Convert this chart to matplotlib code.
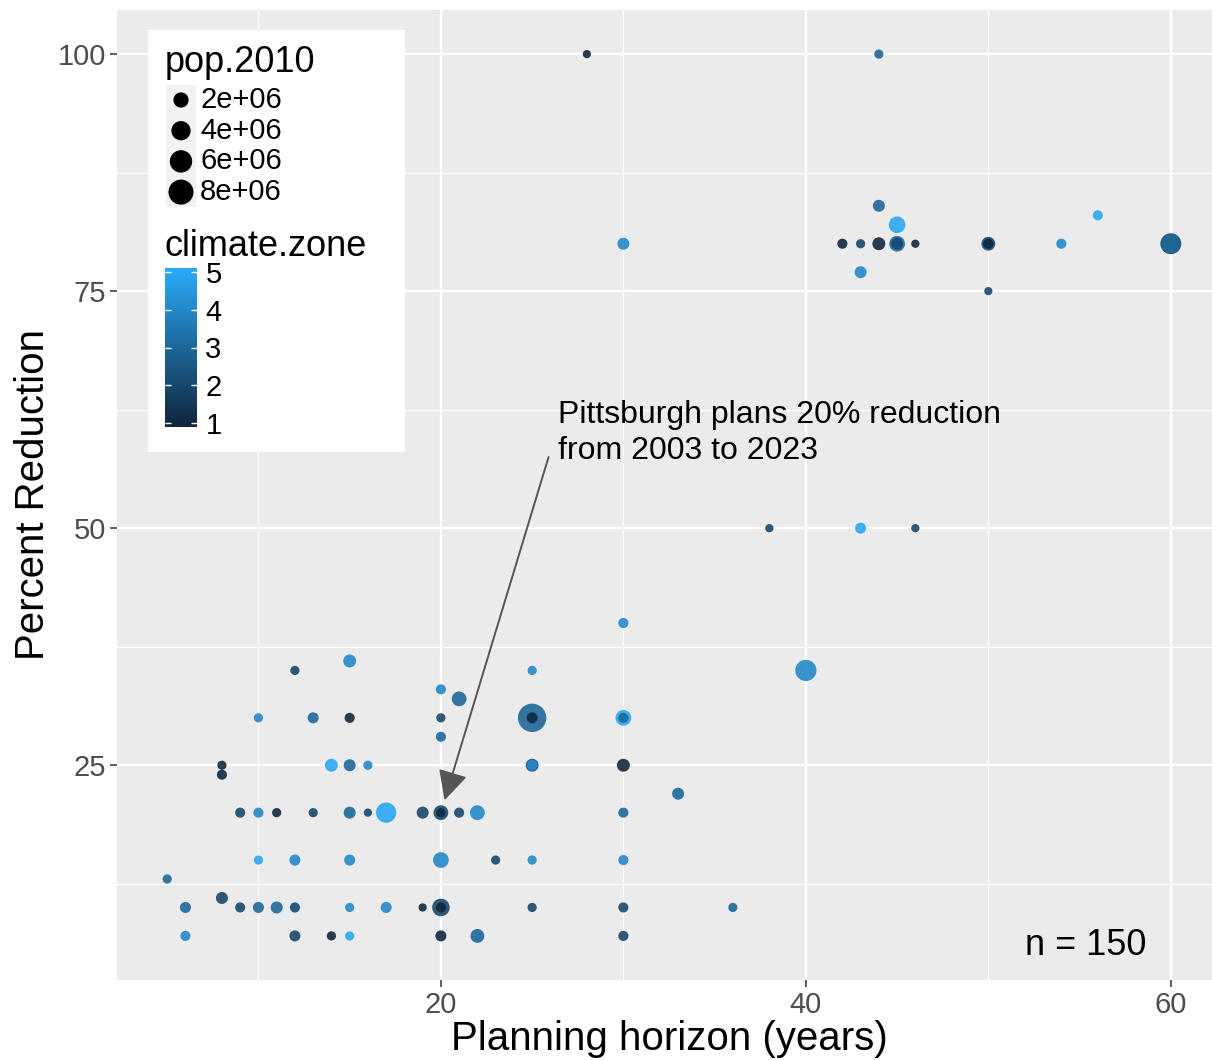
import numpy as np
import matplotlib
matplotlib.use("Agg")
import matplotlib.pyplot as plt
from matplotlib.colors import LinearSegmentedColormap
from matplotlib.patches import Rectangle

plt.rcParams['font.family'] = ['Liberation Sans', 'DejaVu Sans']

# planning horizon (years), percent reduction, climate zone, population (millions)
horizon = [28, 44, 44, 45, 42, 43, 44, 45, 45, 46, 50, 50, 54, 60, 60, 30, 43, 56, 50,
           38, 43, 46, 40, 30,
           15, 12, 25, 20, 21, 10, 13, 15, 20, 25, 25, 30, 30, 20,
           8, 8, 14, 15, 16, 25, 25, 30, 33,
           9, 10, 11, 13, 15, 16, 17, 19, 20, 20, 21, 22, 30,
           10, 12, 15, 20, 23, 25, 30,
           5,
           6, 8, 9, 10, 11, 12, 15, 17, 19, 20, 20, 25, 30, 36,
           6, 12, 14, 15, 20, 22, 30]
reduction = [100, 100, 84, 82, 80, 80, 80, 80, 80, 80, 80, 80, 80, 80, 80, 80, 77, 83, 75,
             50, 50, 50, 35, 40,
             36, 35, 35, 33, 32, 30, 30, 30, 30, 30, 30, 30, 30, 28,
             25, 24, 25, 25, 25, 25, 25, 25, 22,
             20, 20, 20, 20, 20, 20, 20, 20, 20, 20, 20, 20, 20,
             15, 15, 15, 15, 15, 15, 15,
             13,
             10, 11, 10, 10, 10, 10, 10, 10, 10, 10, 10, 10, 10, 10,
             7, 7, 7, 7, 7, 7, 7]
zone = [1, 3, 3, 5, 1, 2, 1, 3, 2, 1, 2, 1, 4, 2, 3, 4, 4, 5, 2,
        2, 5, 2, 4, 4,
        4, 2, 4, 4, 3, 4, 3, 1, 2, 3, 1, 5, 3, 3,
        1, 1, 5, 3, 4, 2, 4, 1, 3,
        2, 4, 1, 2, 3, 2, 5, 2, 2, 1, 2, 4, 3,
        5, 4, 4, 4, 2, 4, 4,
        3,
        3, 2, 2, 3, 3, 2, 4, 4, 1, 2, 1, 2, 2, 3,
        4, 2, 1, 5, 1, 3, 2]
pop = [0.16, 0.29, 0.89, 2.6, 0.45, 0.29, 1.16, 2.2, 0.89, 0.16, 1.47, 0.45, 0.45, 5.0, 4.0, 0.89, 0.89, 0.45, 0.16,
       0.16, 0.65, 0.16, 5.2, 0.45,
       1.16, 0.29, 0.29, 0.45, 1.81, 0.29, 0.65, 0.45, 0.29, 11.0, 0.65, 2.2, 0.45, 0.45,
       0.29, 0.45, 1.16, 0.89, 0.29, 1.16, 0.65, 1.16, 0.89,
       0.45, 0.45, 0.29, 0.29, 0.89, 0.16, 4.6, 0.89, 1.81, 0.29, 0.45, 1.81, 0.45,
       0.29, 0.65, 0.65, 2.2, 0.29, 0.29, 0.45,
       0.29,
       0.65, 0.89, 0.45, 0.65, 0.89, 0.45, 0.29, 0.65, 0.16, 3.07, 0.45, 0.29, 0.45, 0.29,
       0.45, 0.65, 0.29, 0.29, 0.65, 1.47, 0.45]

legend_pops = [2, 4, 6, 8]
legend_labels = ['2e+06', '4e+06', '6e+06', '8e+06']
zone_ticks = [1, 2, 3, 4, 5]

cmap = LinearSegmentedColormap.from_list('gg', ['#112840', '#2AA8F5'])
DPI = 100


def marker_area(p):
    # diameter in pixels grows with sqrt(population), converted to points^2
    d_px = 5.5 + 19.5 * np.sqrt(np.asarray(p) / 8.0)
    return (d_px * 72.0 / DPI) ** 2


fig = plt.figure(figsize=(12.12, 10.6), dpi=DPI)
ax = fig.add_axes([117 / 1212, 80 / 1060, 1104 / 1212, 970 / 1060])
ax.set_facecolor('#EBEBEB')

order = np.argsort(pop)[::-1]
hx = np.array(horizon)[order]
ry = np.array(reduction)[order]
zc = np.array(zone)[order]
pp = np.array(pop)[order]
ax.scatter(hx, ry, s=marker_area(pp), c=zc, cmap=cmap, vmin=1, vmax=5,
           alpha=0.9, linewidths=0, zorder=3)

ax.set_xlim(2.25, 62.75)
ax.set_ylim(2.35, 104.65)
ax.set_xticks([20, 40, 60])
ax.set_xticks([10, 30, 50], minor=True)
ax.set_yticks([25, 50, 75, 100])
ax.set_yticks([12.5, 37.5, 62.5, 87.5], minor=True)
ax.grid(which='major', color='white', lw=1.6, zorder=1)
ax.grid(which='minor', color='white', lw=0.8, zorder=1)
ax.set_axisbelow(True)
for sp in ax.spines.values():
    sp.set_visible(False)
ax.tick_params(which='major', length=5, width=1.1, color='#333333',
               labelsize=21, labelcolor='#4D4D4D', pad=3)
ax.tick_params(which='minor', length=0)

ax.set_xlabel('Planning horizon (years)', fontsize=29, labelpad=1)
ax.set_ylabel('Percent Reduction', fontsize=29, labelpad=4)

ax.annotate('', xy=(20.2, 21.3), xytext=(25.9, 57.5),
            arrowprops=dict(arrowstyle='-|>,head_length=0.7,head_width=0.35',
                            color='#555555', lw=1.4, mutation_scale=26,
                            shrinkA=0, shrinkB=0), zorder=4)
ax.text(26.4, 60.0, 'Pittsburgh plans 20% reduction\nfrom 2003 to 2023',
        fontsize=23, ha='left', va='center', linespacing=1.25, zorder=4)
ax.text(52.0, 6.0, 'n = 150', fontsize=26, ha='left', va='center', zorder=4)

# legend drawn on a pixel-space overlay
lax = fig.add_axes([0, 0, 1, 1], zorder=5)
lax.set_xlim(0, 1212)
lax.set_ylim(1060, 0)
lax.axis('off')
lax.add_patch(Rectangle((148, 30), 257, 422, fc='white', ec='none'))
lax.text(165, 63, 'pop.2010', fontsize=26, va='center', ha='left')
key_y = 100 + 30.7 * np.arange(len(legend_pops))
for ky in key_y:
    lax.add_patch(Rectangle((166, ky - 15.3), 30, 30.6, fc='#F2F2F2', ec='none'))
lax.scatter([181] * len(legend_pops), key_y, s=marker_area(legend_pops),
            color='black', linewidths=0, zorder=3)
for ky, lab in zip(key_y, legend_labels):
    lax.text(200, ky, lab, fontsize=21, va='center', ha='left')
lax.text(165, 246, 'climate.zone', fontsize=26, va='center', ha='left')

cax = fig.add_axes([165 / 1212, (1060 - 427) / 1060, 32 / 1212, 159 / 1060], zorder=6)
lo, hi = 1 - 0.105, 5 + 0.105
grad = np.linspace(lo, hi, 200).reshape(-1, 1)
cax.imshow(grad, cmap=cmap, vmin=1, vmax=5, aspect='auto', origin='lower',
           extent=(0, 1, lo, hi))
cax.set_xlim(0, 1)
cax.set_ylim(lo, hi)
cax.hlines(zone_ticks, 0, 0.2, color='white', lw=1)
cax.hlines(zone_ticks, 0.8, 1, color='white', lw=1)
cax.set_xticks([])
cax.set_yticks(zone_ticks)
cax.yaxis.tick_right()
cax.tick_params(axis='y', length=0, labelsize=21, pad=6)
for sp in cax.spines.values():
    sp.set_visible(False)

fig.savefig('out.png', dpi=DPI)
